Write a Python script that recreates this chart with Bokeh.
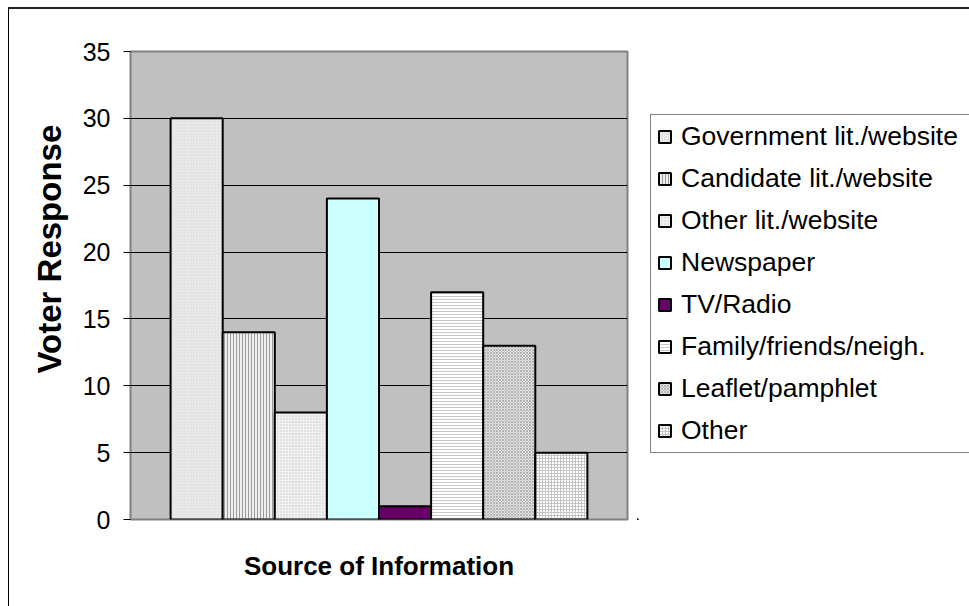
import math
from bokeh.plotting import figure
from bokeh.layouts import row
from bokeh.models import Range1d, Legend, LegendItem, Title, FixedTicker
from bokeh.embed import file_html
from bokeh.resources import INLINE

# ---- data ----
sources = ["Government lit./website", "Candidate lit./website", "Other lit./website",
           "Newspaper", "TV/Radio", "Family/friends/neigh.", "Leaflet/pamphlet", "Other"]
responses = [30, 14, 8, 24, 1, 17, 13, 5]
y_ticks = [0, 5, 10, 15, 20, 25, 30, 35]

# ---- styles (per bar) ----
fills = ["#EAEAEA", "#EEEEEE", "#F2F2F2", "#CCFFFF", "#660066", "#FFFFFF", "#E4E4E4", "#FFFFFF"]
hatches = ["dot", "vertical_line", "dot", None, None, "horizontal_line", "diagonal_cross", "cross"]
hatch_colors = ["#D6D6D6", "#9C9C9C", "#C4C4C4", None, None, "#C8C8C8", "#B4B4B4", "#C4C4C4"]

FONT = "Liberation Sans"


def bar_style(i):
    kw = dict(fill_color=fills[i], line_color="black", line_width=2)
    if hatches[i]:
        kw.update(hatch_pattern=hatches[i], hatch_color=hatch_colors[i], hatch_scale=3, hatch_weight=1)
    return kw


p = figure(width=628, height=597, output_backend="svg", toolbar_location=None,
           x_range=Range1d(-1.27, 8.27), y_range=Range1d(0, 35),
           min_border_left=121, min_border_right=10, min_border_top=42, min_border_bottom=87)

p.background_fill_color = "#C0C0C0"
p.border_fill_color = "white"
p.outline_line_color = "#808080"
p.outline_line_width = 2

for i, val in enumerate(responses):
    p.vbar(x=[i], top=[val], bottom=0, width=1, **bar_style(i))

# grid
p.xgrid.grid_line_color = None
p.ygrid.grid_line_color = "black"
p.ygrid.grid_line_width = 1
p.ygrid.ticker = FixedTicker(ticks=y_ticks[1:-1])

# y axis
p.yaxis.ticker = FixedTicker(ticks=y_ticks)
p.yaxis.axis_line_color = None
p.yaxis.major_tick_line_color = "black"
p.yaxis.major_tick_out = 7
p.yaxis.major_tick_in = 0
p.yaxis.minor_tick_line_color = None
p.yaxis.major_label_standoff = 13
p.yaxis.major_label_text_font = FONT
p.yaxis.major_label_text_font_size = "25px"
p.yaxis.major_label_text_color = "black"

# x axis
p.xaxis.ticker = FixedTicker(ticks=[])
p.xaxis.axis_line_color = None
p.xaxis.major_tick_line_color = None
p.xaxis.minor_tick_line_color = None
p.xaxis.major_label_standoff = 0
p.xaxis.axis_label = "Source of Information"
p.xaxis.axis_label_text_font = FONT
p.xaxis.axis_label_text_font_style = "bold"
p.xaxis.axis_label_text_font_size = "26px"
p.xaxis.axis_label_text_color = "black"
p.xaxis.axis_label_standoff = 31

# y title (side title, shifted along the axis)
ytitle = Title(text="Voter Response", align="left", offset=146, standoff=24,
               text_font=FONT, text_font_style="bold", text_font_size="33px", text_color="black")
p.add_layout(ytitle, "left")

# ---- legend panel (separate figure to the right of the plot area) ----
# its glyph renderers hold the same values but lie outside its (hidden) ranges
p2 = figure(width=332, height=597, output_backend="svg", toolbar_location=None,
            x_range=Range1d(100, 101), y_range=Range1d(100, 101), min_border=0,
            x_axis_location=None, y_axis_location=None)
p2.grid.visible = False
p2.outline_line_color = None
p2.background_fill_color = "white"
p2.border_fill_color = "white"

items = []
for i, (name, val) in enumerate(zip(sources, responses)):
    r = p2.vbar(x=[i], top=[val], bottom=0, width=1, **bar_style(i))
    items.append(LegendItem(label=name, renderers=[r]))

legend = Legend(items=items, location=(13, 66))
legend.border_line_color = "black"
legend.border_line_width = 1
legend.background_fill_color = "white"
legend.background_fill_alpha = 1
legend.label_text_font = FONT
legend.label_text_font_size = "26.5px"
legend.label_text_color = "black"
legend.glyph_width = 15
legend.glyph_height = 15
legend.label_standoff = 9
legend.label_height = 30
legend.label_width = 300
legend.spacing = 11
legend.padding = 6
legend.margin = 0
p2.add_layout(legend, "center")

layout = row(p, p2, spacing=0)
layout.styles = {"margin-left": "8px", "margin-top": "7px",
                 "border-left": "1px solid black", "border-top": "2px solid #222222"}

open("out.html", "w").write(file_html(layout, INLINE))
